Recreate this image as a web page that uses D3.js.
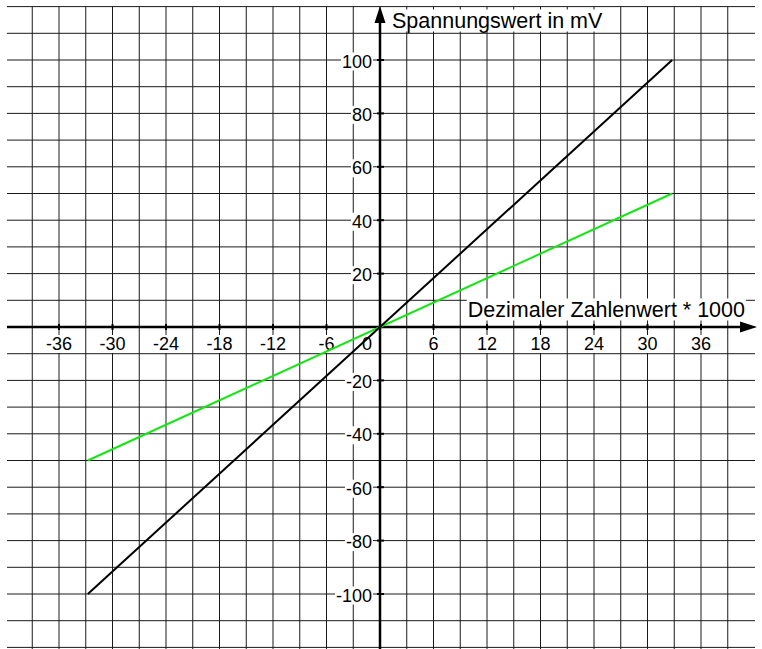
<!DOCTYPE html>
<html>
<head>
<meta charset="utf-8">
<script src="https://cdn.jsdelivr.net/npm/d3@7"></script>
<style>
  body { margin: 0; background: #fff; }
  svg { display: block; font-family: "Liberation Sans", Arial, sans-serif; }
</style>
</head>
<body>
<svg id="chart" width="762" height="649"></svg>
<script>
// data
const xTicks = [-36, -30, -24, -18, -12, -6, 6, 12, 18, 24, 30, 36];
const yTicks = [-100, -80, -60, -40, -20, 20, 40, 60, 80, 100];
const rawValues = [-32768, 32767];        // dezimaler Zahlenwert
const mvBlack = [-100, 100];              // Spannungswert in mV
const mvGreen = [-50, 50];

const svg = d3.select("#chart");

let x = d3.scaleLinear().domain([-36, 36]).range([59, 701]),
    y = d3.scaleLinear().domain([-100, 100]).range([594, 60]);

// grid
let grid = svg.append("g").attr("stroke", "#1a1a1a").attr("stroke-width", 1);
grid.selectAll("line.v")
    .data(d3.range(-39, 40, 3))
    .enter().append("line")
    .attr("x1", d => x(d)).attr("x2", d => x(d))
    .attr("y1", y(120)).attr("y2", 649);
grid.selectAll("line.h")
    .data(d3.range(-120, 121, 10))
    .enter().append("line")
    .attr("x1", 7).attr("x2", 755)
    .attr("y1", d => y(d)).attr("y2", d => y(d));

// text with white box behind it
function boxedText(g, px, py, txt, size, anchor) {
    let t = g.append("text")
        .attr("x", px).attr("y", py)
        .attr("text-anchor", anchor)
        .style("font-size", size + "px")
        .attr("fill", "#000")
        .text(txt);
    let b = t.node().getBBox();
    g.insert("rect", function(){ return t.node(); })
        .attr("x", b.x - 1).attr("y", b.y + 1)
        .attr("width", b.width + 2).attr("height", b.height - 2)
        .attr("fill", "#fff");
    return t;
}

let labels = svg.append("g");
xTicks.forEach(d => boxedText(labels, x(d), 350, d, 18, "middle"));
yTicks.forEach(d => boxedText(labels, 372, y(d) + 7.5, d, 18, "end"));
boxedText(labels, 372, 350, "0", 18, "end");

boxedText(labels, 392, 27.5, "Spannungswert in mV", 21.5, "start");
boxedText(labels, 745, 316.5, "Dezimaler Zahlenwert * 1000", 21.5, "end");

// axes
let axes = svg.append("g").attr("stroke", "#000");
axes.append("line")
    .attr("x1", 7).attr("x2", 744)
    .attr("y1", y(0)).attr("y2", y(0))
    .attr("stroke-width", 2.5);
axes.append("path")
    .attr("d", `M757,${y(0)} L740,${y(0) - 5.5} L740,${y(0) + 5.5} Z`)
    .attr("fill", "#000").attr("stroke", "none");
axes.append("line")
    .attr("x1", x(0)).attr("x2", x(0))
    .attr("y1", 649).attr("y2", 20)
    .attr("stroke-width", 2.5);
axes.append("path")
    .attr("d", `M${x(0)},6 L${x(0) - 5.5},23 L${x(0) + 5.5},23 Z`)
    .attr("fill", "#000").attr("stroke", "none");

axes.selectAll("line.xt")
    .data(xTicks)
    .enter().append("line")
    .attr("x1", d => x(d)).attr("x2", d => x(d))
    .attr("y1", y(0) - 3).attr("y2", y(0) + 3)
    .attr("stroke-width", 2);
axes.selectAll("line.yt")
    .data(yTicks)
    .enter().append("line")
    .attr("x1", x(0) - 3).attr("x2", x(0) + 4)
    .attr("y1", d => y(d)).attr("y2", d => y(d))
    .attr("stroke-width", 2);

// kennlinien
let line = d3.line().x(d => x(d[0] / 1000)).y(d => y(d[1]));
svg.append("path")
    .datum(rawValues.map((v, i) => [v, mvGreen[i]]))
    .attr("d", line)
    .attr("fill", "none").attr("stroke", "#14e614").attr("stroke-width", 2);
svg.append("path")
    .datum(rawValues.map((v, i) => [v, mvBlack[i]]))
    .attr("d", line)
    .attr("fill", "none").attr("stroke", "#000").attr("stroke-width", 2);
</script>
</body>
</html>
